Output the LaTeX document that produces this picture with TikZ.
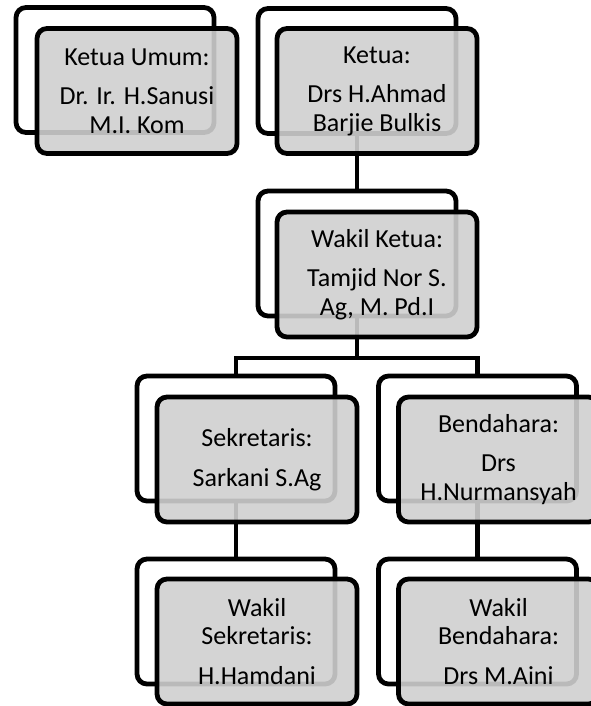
\documentclass[tikz,border=0pt]{standalone}
\usepackage{fontspec}
\setmainfont{Carlito}
\begin{document}
\begin{tikzpicture}[x=1pt,y=-1pt,
  backbox/.style={draw=black,line width=4.8pt,rounded corners=10pt,minimum width=198pt,minimum height=125pt,inner sep=0pt,outer sep=0pt},
  frontbox/.style={draw=black,line width=4.8pt,rounded corners=10pt,minimum width=200pt,minimum height=125pt,inner sep=2pt,outer sep=0pt,
    fill=black!19,fill opacity=0.9,draw opacity=1,text opacity=1,align=center,
    font=\fontsize{26}{28.5}\selectfont},
  link/.style={draw=black,line width=4.8pt}]
\useasboundingbox (0,0) rectangle (590,706);
% back boxes
\node[backbox] (b1) at (115,70) {};
\node[backbox] (b2) at (357,71) {};
\node[backbox] (b3) at (357,253.5) {};
\node[backbox] (b4) at (236,438.5) {};
\node[backbox] (b5) at (477.5,438.5) {};
\node[backbox] (b6) at (236,621.5) {};
\node[backbox] (b7) at (477.5,621.5) {};
\coordinate (j) at (357,358);
% connectors
\draw[link] (b2.south) -- (b3.north);
\draw[link] (b3.south) -- (j);
\draw[link] (b4.north) |- (j) -| (b5.north);
\draw[link] (b4.south) -- (b6.north);
\draw[link] (b5.south) -- (b7.north);
% front boxes
\node[frontbox] (f1) at (137,91) {Ketua Umum:\\[11pt]Dr. Ir. H.Sanusi\\M.I. Kom};
\node[frontbox] (f2) at (377,91) {Ketua:\\[11pt]Drs H.Ahmad\\Barjie Bulkis};
\node[frontbox] (f3) at (377,274.5) {Wakil Ketua:\\[11pt]Tamjid Nor S.\\Ag, M. Pd.I};
\node[frontbox] (f4) at (257,459.5) {Sekretaris:\\[11pt]Sarkani S.Ag};
\node[frontbox] (f5) at (498.5,459.5) {Bendahara:\\[11pt]Drs\\H.Nurmansyah};
\node[frontbox] (f6) at (257,641.5) {Wakil\\Sekretaris:\\[11pt]H.Hamdani};
\node[frontbox] (f7) at (498.5,641.5) {Wakil\\Bendahara:\\[11pt]Drs M.Aini};
\end{tikzpicture}
\end{document}
